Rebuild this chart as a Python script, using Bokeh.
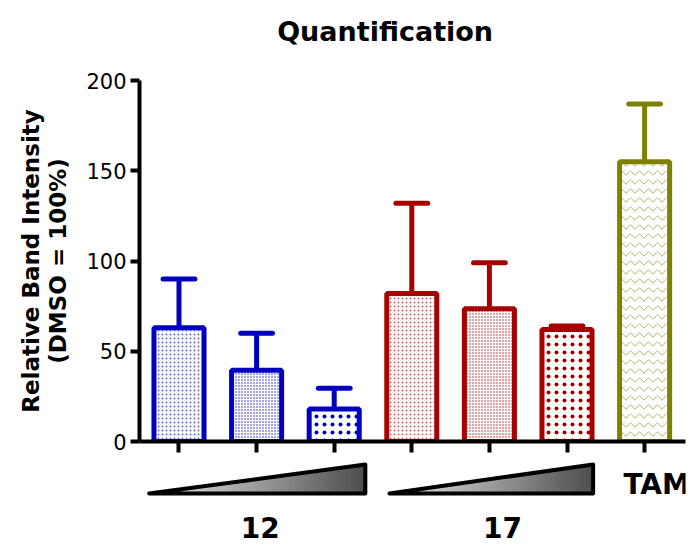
from bokeh.plotting import figure
from bokeh.layouts import column
from bokeh.models import Range1d, FixedTicker
from bokeh.core.properties import value
from bokeh.embed import file_html
from bokeh.resources import INLINE

# ---- data ----
categories = ["12 low", "12 mid", "12 high", "17 low", "17 mid", "17 high", "TAM"]
means = [63, 39.5, 18, 82, 73.5, 62, 155]
errors = [27, 20.5, 11.5, 50, 25.5, 2, 32]
y_ticks = [0, 50, 100, 150, 200]
group_labels = ["12", "17", "TAM"]
group_label_x = [1.975, 5.21, 7.27]
title_text = "Quantification"
title_x = 3.643
y_label = "Relative Band Intensity\n(DMSO = 100%)"

# ---- style ----
FONT = "DejaVu Sans"
BLUE = "#0000c0"
RED = "#a80000"
OLIVE = "#808000"
colors = [BLUE] * 3 + [RED] * 3 + [OLIVE]
fill_colors = ["#ffffff"] * 7
hatch_patterns = ["dot", "dot", "dot", "dot", "dot", "dot", "v"]
hatch_scales = [4, 3, 8, 4, 3, 8, 9]
hatch_weights = [0.8, 1.3, 4.5, 0.8, 1.3, 4.5, 1.0]
hatch_alphas = [0.6, 0.9, 1.0, 0.6, 0.9, 1.0, 0.6]

W = 695
X0, X1 = 0.491, 7.527
PXU = 77.56
LB = 129
xs = list(range(1, len(categories) + 1))
side_range = (X0 - (139 - LB) / PXU, X1 + 10 / PXU)


def strip(height):
    f = figure(width=W, height=height, x_range=Range1d(*side_range),
               y_range=Range1d(height, 0), output_backend="svg", toolbar_location=None,
               x_axis_location=None, y_axis_location=None,
               min_border_left=LB, min_border_right=0, min_border_top=0, min_border_bottom=0)
    f.grid.visible = False
    f.outline_line_color = None
    return f


# ---- title strip ----
HT = 60
pT = strip(HT)
pT.text(x=[title_x], y=[31], text=[title_text], text_font=value(FONT), text_font_style="bold",
        text_font_size="27px", text_align="center", text_baseline="middle", text_color="black")

# ---- main bar chart ----
pA = figure(width=W, height=455 - HT, x_range=Range1d(X0, X1), y_range=Range1d(0, 200),
            output_backend="svg", toolbar_location=None,
            min_border_left=139, min_border_right=10, min_border_top=80 - HT, min_border_bottom=14)
pA.outline_line_color = None
pA.grid.visible = False
pA.background_fill_color = "white"

for i in range(len(categories)):
    pA.vbar(x=[xs[i]], top=[means[i]], bottom=0, width=0.645,
            fill_color=fill_colors[i], line_color=colors[i], line_width=5,
            hatch_pattern=hatch_patterns[i], hatch_color=colors[i],
            hatch_scale=hatch_scales[i], hatch_weight=hatch_weights[i],
            hatch_alpha=hatch_alphas[i])

tops = [m + e for m, e in zip(means, errors)]
pA.segment(x0=xs, y0=means, x1=xs, y1=tops, line_color=colors, line_width=5)
pA.segment(x0=[x - 0.205 for x in xs], y0=tops, x1=[x + 0.205 for x in xs], y1=tops,
           line_color=colors, line_width=5, line_cap="round")

ya = pA.yaxis[0]
ya.ticker = FixedTicker(ticks=y_ticks)
ya.minor_tick_line_color = None
ya.major_tick_out = 9
ya.major_tick_in = 0
ya.axis_line_width = 4
ya.major_tick_line_width = 4
ya.major_label_text_font = FONT
ya.major_label_text_font_size = "21px"
ya.major_label_text_color = "black"
ya.major_label_standoff = 4
ya.axis_label = y_label
ya.axis_label_text_font = FONT
ya.axis_label_text_font_size = "23px"
ya.axis_label_text_font_style = "bold"
ya.axis_label_text_color = "black"
ya.axis_label_text_line_height = 1.05
ya.axis_label_standoff = 12

xa = pA.xaxis[0]
xa.ticker = FixedTicker(ticks=xs)
xa.minor_tick_line_color = None
xa.major_tick_out = 11
xa.major_tick_in = 0
xa.axis_line_width = 4
xa.major_tick_line_width = 4
xa.major_label_text_font_size = "1px"
xa.major_label_text_color = None
xa.major_label_standoff = 0

# ---- lower panel: dose wedges and group labels ----
HB = 546 - 455
pB = strip(HB)


def hex_mix(c0, c1, t):
    a = [int(c0[k:k + 2], 16) for k in (1, 3, 5)]
    b = [int(c1[k:k + 2], 16) for k in (1, 3, 5)]
    return "#%02x%02x%02x" % tuple(round(a[j] + (b[j] - a[j]) * t) for j in range(3))


wedges = [(0.491, 3.379), (3.701, 6.422)]
y_top, y_bot = 9, 38
N = 60
for (wa, wb) in wedges:
    sx, sy, sc = [], [], []
    for k in range(N):
        xa0 = wa + (wb - wa) * k / N
        xa1 = wa + (wb - wa) * (k + 1) / N
        ya0 = y_bot - (y_bot - y_top) * k / N
        ya1 = y_bot - (y_bot - y_top) * (k + 1) / N
        sx.append([xa0, xa1 + 0.015, xa1 + 0.015, xa0])
        sy.append([y_bot, y_bot, ya1, ya0])
        sc.append(hex_mix("#e8e8e8", "#4e4e4e", (k + 0.5) / N))
    pB.patches(xs=sx, ys=sy, fill_color=sc, line_color=sc, line_width=0.5)
    pB.patch(x=[wa, wb, wb, wa], y=[y_bot, y_top, y_bot, y_bot], fill_color=None,
             line_color="black", line_width=4, line_join="round")

pB.text(x=group_label_x[:2], y=[72, 72], text=group_labels[:2],
        text_font=value(FONT), text_font_style="bold", text_font_size="28px",
        text_align="center", text_baseline="middle", text_color="black")
pB.text(x=[group_label_x[2]], y=[29], text=[group_labels[2]],
        text_font=value(FONT), text_font_style="bold", text_font_size="28px",
        text_align="center", text_baseline="middle", text_color="black")

layout = column(pT, pA, pB, spacing=0)
open("out.html", "w").write(file_html(layout, INLINE))
